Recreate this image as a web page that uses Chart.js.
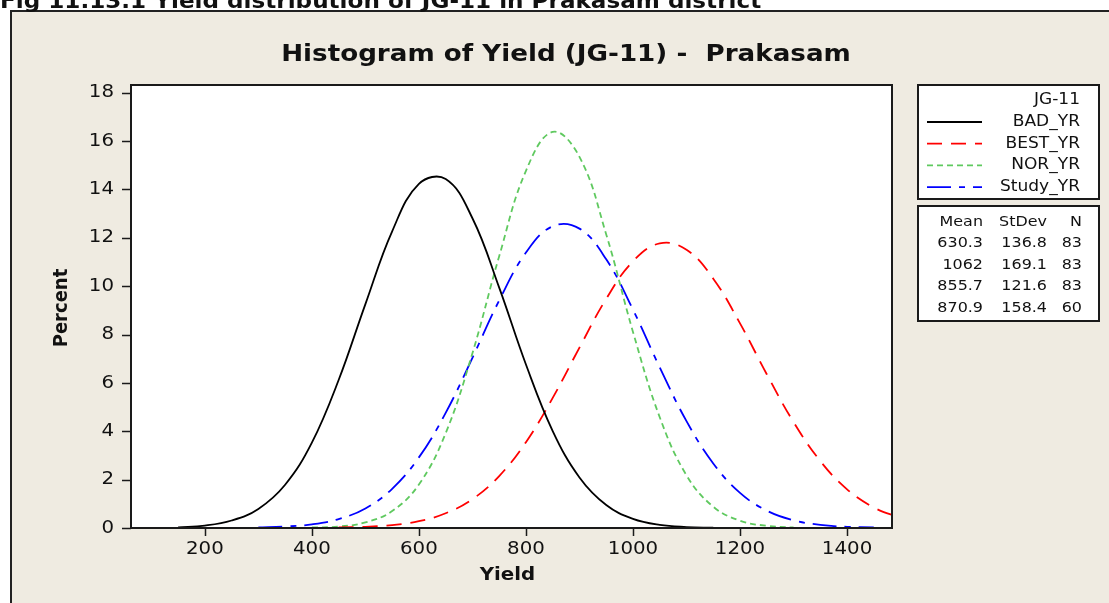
<!DOCTYPE html>
<html>
<head>
<meta charset="utf-8">
<title>Histogram of Yield (JG-11) - Prakasam</title>
<script src="https://cdn.jsdelivr.net/npm/chart.js@4.4.1/dist/chart.umd.min.js"></script>
<style>
    html, body { margin: 0; padding: 0; background: #fff; }
    #wrap { position: relative; width: 1109px; height: 603px; }
</style>
</head>
<body>
<div id="wrap"><canvas id="yieldChart"></canvas></div>
<script>
// Yield grid the fitted curves were read at
const yieldX = [100, 150, 200, 250, 300, 350, 400, 450, 500, 550, 600, 650, 700, 750, 800,
                850, 900, 950, 1000, 1050, 1100, 1150, 1200, 1250, 1300, 1350, 1400, 1450, 1500];

// Percent per curve (null = curve not drawn there)
const badYr = [null, 0.03, 0.10, 0.31, 0.79, 1.79, 3.53, 6.12, 9.26, 12.27, 14.23, 14.43, 12.81, 9.94, 6.76,
               4.01, 2.09, 0.95, 0.38, 0.13, 0.04, 0.01, null, null, null, null, null, null, null];
const bestYr = [null, null, null, null, null, null, null, 0.02, 0.05, 0.12, 0.28, 0.61, 1.19, 2.15, 3.55,
                5.38, 7.46, 9.48, 11.03, 11.77, 11.51, 10.31, 8.46, 6.36, 4.38, 2.77, 1.60, 0.85, 0.41];
const norYr = [null, null, null, null, null, null, 0.02, 0.06, 0.23, 0.70, 1.80, 3.92, 7.23, 11.24, 14.77,
               16.38, 15.35, 12.14, 8.11, 4.58, 2.18, 0.88, 0.30, 0.09, 0.02, null, null, null, null];
const studyYr = [null, null, null, null, 0.02, 0.06, 0.15, 0.37, 0.81, 1.62, 2.92, 4.76, 7.04, 9.41, 11.39,
                 12.48, 12.38, 11.11, 9.03, 6.64, 4.42, 2.67, 1.45, 0.72, 0.32, 0.13, 0.05, 0.02, null];

const seriesNames = ['BAD_YR', 'BEST_YR', 'NOR_YR', 'Study_YR'];
const means = [630.3, 1062, 855.7, 870.9];
const stDevs = [136.8, 169.1, 121.6, 158.4];
const counts = [83, 83, 83, 60];

const xTicks = [200, 400, 600, 800, 1000, 1200, 1400];
const yTicks = [0, 2, 4, 6, 8, 10, 12, 14, 16, 18];

const BEIGE = '#efebe1';
const INK = '#111';
const SX = 1.1; // text is drawn a little wide, like the Minitab export

function pts(values) {
    return yieldX.map((x, i) => ({ x: x, y: values[i] }));
}

function wideText(ctx, text, x, y, font, align, baseline) {
    ctx.save();
    ctx.font = font;
    ctx.fillStyle = INK;
    ctx.textAlign = align || 'left';
    ctx.textBaseline = baseline || 'middle';
    ctx.translate(x, y);
    ctx.scale(SX, 1);
    ctx.fillText(text, 0, 0);
    ctx.restore();
}

function lineStyle(color, dash) {
    return {
        borderColor: color,
        backgroundColor: color,
        borderWidth: 1.8,
        borderDash: dash,
        pointRadius: 0,
        fill: false,
        tension: 0.4
    };
}

// Page frame, titles, ticks, legend and the stats table
const minitabFrame = {
    id: 'minitabFrame',
    beforeDraw(chart) {
        const ctx = chart.ctx;
        const a = chart.chartArea;
        ctx.save();
        ctx.fillStyle = '#fff';
        ctx.fillRect(0, 0, chart.width, chart.height);
        ctx.fillStyle = BEIGE;
        ctx.fillRect(11, 11, chart.width - 11, chart.height - 11);
        ctx.strokeStyle = '#222';
        ctx.lineWidth = 2;
        ctx.beginPath();
        ctx.moveTo(11, chart.height);
        ctx.lineTo(11, 11);
        ctx.lineTo(chart.width, 11);
        ctx.stroke();
        ctx.fillStyle = '#fff';
        ctx.fillRect(a.left, a.top, a.right - a.left, a.bottom - a.top);
        ctx.restore();

        // figure caption, clipped by the top of the page
        wideText(ctx, 'Fig 11.13.1 Yield distribution of JG-11 in Prakasam district', 0, 8,
            'bold 21px "DejaVu Sans"', 'left', 'alphabetic');
    },
    afterDraw(chart) {
        const ctx = chart.ctx;
        const a = chart.chartArea;
        const xs = chart.scales.x;
        const ys = chart.scales.y;

        ctx.save();
        ctx.strokeStyle = '#1a1a1a';
        ctx.lineWidth = 2;
        ctx.strokeRect(a.left, a.top, a.right - a.left, a.bottom - a.top);

        // tick marks
        ctx.lineWidth = 1.5;
        ctx.beginPath();
        xTicks.forEach(v => {
            const px = Math.round(xs.getPixelForValue(v)) + 0.5;
            ctx.moveTo(px, a.bottom);
            ctx.lineTo(px, a.bottom + 8);
        });
        yTicks.forEach(v => {
            const py = Math.round(ys.getPixelForValue(v)) + 0.5;
            ctx.moveTo(a.left - 9, py);
            ctx.lineTo(a.left, py);
        });
        ctx.stroke();
        ctx.restore();

        const tickFont = '18px "DejaVu Sans"';
        xTicks.forEach(v => {
            wideText(ctx, String(v), xs.getPixelForValue(v), a.bottom + 21, tickFont, 'center');
        });
        yTicks.forEach(v => {
            wideText(ctx, String(v), a.left - 17, ys.getPixelForValue(v), tickFont, 'right');
        });

        // titles
        wideText(ctx, 'Histogram of Yield (JG-11) -  Prakasam', 566, 61, 'bold 23.8px "DejaVu Sans"', 'center', 'alphabetic');
        wideText(ctx, 'Yield', (a.left + a.right) / 2 - 4, 575, 'bold 18px "DejaVu Sans"', 'center');

        ctx.save();
        ctx.translate(62, 308);
        ctx.rotate(-Math.PI / 2);
        ctx.scale(1, SX);
        ctx.font = 'bold 18px "DejaVu Sans"';
        ctx.fillStyle = INK;
        ctx.textAlign = 'center';
        ctx.textBaseline = 'middle';
        ctx.fillText('Percent', 0, 0);
        ctx.restore();

        // legend box
        ctx.save();
        ctx.fillStyle = '#fff';
        ctx.strokeStyle = '#1a1a1a';
        ctx.lineWidth = 2;
        ctx.fillRect(918, 85, 181, 114);
        ctx.strokeRect(918, 85, 181, 114);
        ctx.fillRect(918, 206, 181, 115);
        ctx.strokeRect(918, 206, 181, 115);
        ctx.restore();

        const legendFont = '15.5px "DejaVu Sans"';
        wideText(ctx, 'JG-11', 1080, 100, legendFont, 'right');
        chart.data.datasets.forEach((ds, i) => {
            const y = 122 + i * 21.7;
            ctx.save();
            ctx.strokeStyle = ds.borderColor;
            ctx.lineWidth = 1.8;
            ctx.setLineDash(ds.borderDash || []);
            ctx.beginPath();
            ctx.moveTo(927, y);
            ctx.lineTo(982, y);
            ctx.stroke();
            ctx.restore();
            wideText(ctx, ds.label, 1080, y, legendFont, 'right');
        });

        const statFont = '14.5px "DejaVu Sans"';
        wideText(ctx, 'Mean', 983, 222, statFont, 'right');
        wideText(ctx, 'StDev', 1047, 222, statFont, 'right');
        wideText(ctx, 'N', 1082, 222, statFont, 'right');
        means.forEach((m, i) => {
            const y = 243.5 + i * 21.6;
            wideText(ctx, m.toPrecision(4), 983, y, statFont, 'right');
            wideText(ctx, stDevs[i].toFixed(1), 1047, y, statFont, 'right');
            wideText(ctx, String(counts[i]), 1082, y, statFont, 'right');
        });
    }
};

new Chart(document.getElementById('yieldChart'), {
    type: 'line',
    data: {
        datasets: [
            Object.assign({ label: seriesNames[0], data: pts(badYr) }, lineStyle('#000000', [])),
            Object.assign({ label: seriesNames[1], data: pts(bestYr) }, lineStyle('#ff0000', [15, 9])),
            Object.assign({ label: seriesNames[2], data: pts(norYr) }, lineStyle('#5fc95f', [6, 4])),
            Object.assign({ label: seriesNames[3], data: pts(studyYr) }, lineStyle('#0000ff', [24, 8, 6, 8]))
        ]
    },
    options: {
        responsive: true,
        maintainAspectRatio: false,
        animation: false,
        layout: { padding: { left: 0, right: 217, top: 85, bottom: 0 } },
        plugins: {
            legend: { display: false },
            tooltip: { enabled: false }
        },
        scales: {
            x: {
                type: 'linear',
                min: 62,
                max: 1484,
                afterBuildTicks: s => { s.ticks = xTicks.map(v => ({ value: v })); },
                afterFit: s => { s.height = 75; },
                ticks: { display: false },
                grid: { display: false },
                border: { display: false }
            },
            y: {
                min: 0,
                max: 18.32,
                afterBuildTicks: s => { s.ticks = yTicks.map(v => ({ value: v })); },
                afterFit: s => { s.width = 131; },
                ticks: { display: false },
                grid: { display: false },
                border: { display: false }
            }
        }
    },
    plugins: [minitabFrame]
});
</script>
</body>
</html>
